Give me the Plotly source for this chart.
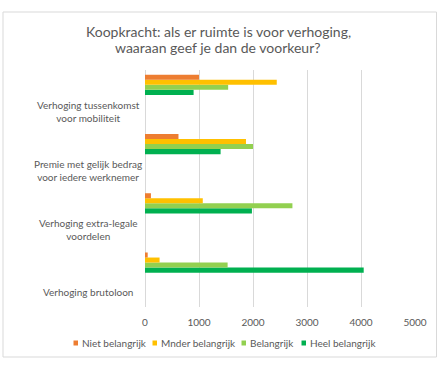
import plotly.graph_objects as go

categories = ["Verhoging brutoloon", "Verhoging extra-legale<br>voordelen",
              "Premie met gelijk bedrag<br>voor iedere werknemer",
              "Verhoging tussenkomst<br>voor mobiliteit"]
series_names = ["Niet belangrijk", "Mnder belangrijk", "Belangrijk", "Heel belangrijk"]
niet = [50, 110, 620, 1000]
mnder = [270, 1070, 1870, 2440]
belangrijk = [1530, 2730, 2000, 1540]
heel = [4050, 1980, 1400, 900]
colors = ["#ED7D31", "#FFC000", "#92D050", "#00B050"]
x_ticks = [0, 1000, 2000, 3000, 4000, 5000]
title_lines = ["Koopkracht: als er ruimte is voor verhoging,",
               "waaraan geef je dan de voorkeur?"]

values = [niet, mnder, belangrijk, heel]
font_family = "Lato, 'Open Sans', sans-serif"
gray = "#595959"

W, H = 440, 370
L, R, T, B = 145, 25, 70, 63
pw, ph = W - L - R, H - T - B


def px_x(p):
    return (p - L) / pw


def px_y(p):
    return (H - B - p) / ph


fig = go.Figure()
bar_pos = [i + 0.5 for i in range(len(categories))]
# add in reverse so that 'Niet' sits at the top of each group
for name, vals, col in reversed(list(zip(series_names, values, colors))):
    fig.add_trace(go.Bar(y=bar_pos, x=vals, name=name, orientation="h",
                         marker=dict(color=col, line=dict(width=0)),
                         showlegend=False))

annotations = []
for i, cat in enumerate(categories):
    annotations.append(dict(text=cat, xref="paper", yref="y", x=px_x(88), y=i,
                            xanchor="center", yanchor="middle", align="center",
                            yshift=3 if "<br>" in cat else 0,
                            showarrow=False, font=dict(size=10, color=gray, family=font_family)))

# title, line by line
for line, ty in zip(title_lines, [32, 47]):
    annotations.append(dict(text=line, xref="paper", yref="paper",
                            x=px_x(218), y=px_y(ty), xanchor="center", yanchor="middle",
                            showarrow=False, font=dict(size=14, color=gray, family=font_family)))

# legend (manual, compact like the original)
legend_sq = [73.5, 152.5, 241.5, 301.5]
legend_y = 343
shapes = []
for name, col, sx in zip(series_names, colors, legend_sq):
    shapes.append(dict(type="rect", xref="paper", yref="paper",
                       x0=px_x(sx), x1=px_x(sx + 4.5),
                       y0=px_y(legend_y + 2.5), y1=px_y(legend_y - 2.5),
                       line=dict(width=0), fillcolor=col))
    annotations.append(dict(text=name, xref="paper", yref="paper",
                            x=px_x(sx + 6.5), y=px_y(legend_y),
                            xanchor="left", yanchor="middle", showarrow=False,
                            font=dict(size=10, color=gray, family=font_family)))

shapes.append(dict(type="rect", xref="paper", yref="paper",
                   x0=px_x(3), x1=px_x(436.5), y0=px_y(357), y1=px_y(12),
                   line=dict(color="#D9D9D9", width=1), fillcolor="rgba(0,0,0,0)",
                   layer="below"))

fig.update_layout(
    width=W, height=H,
    margin=dict(l=L, r=R, t=T, b=B),
    paper_bgcolor="white", plot_bgcolor="white",
    barmode="group", bargap=0.66, bargroupgap=0,
    xaxis=dict(range=[0, 5000], tickvals=x_ticks, ticktext=[str(t) for t in x_ticks],
               showgrid=True, gridcolor="#D9D9D9", gridwidth=1,
               zeroline=True, zerolinecolor="#D9D9D9", zerolinewidth=1,
               showline=False, ticks="", automargin=False, ticklabelstandoff=8,
               tickfont=dict(size=10, color=gray, family=font_family)),
    yaxis=dict(range=[-0.25, 3.75], showticklabels=False, showgrid=False,
               zeroline=False, showline=False, ticks="", automargin=False),
    annotations=annotations,
    shapes=shapes,
)

fig.write_html("out.html", config={"displayModeBar": False},
               post_script="document.body.style.margin='0';")
